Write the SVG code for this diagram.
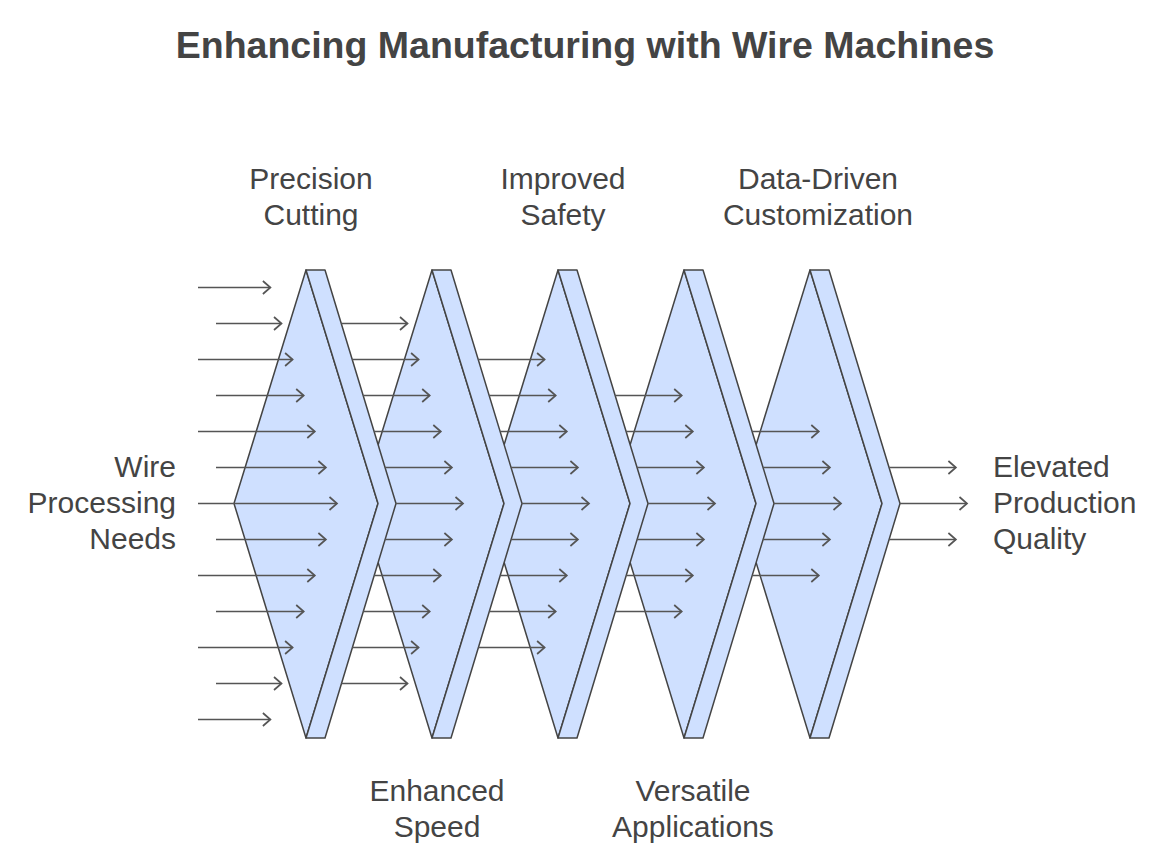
<svg xmlns="http://www.w3.org/2000/svg" width="1170" height="864" viewBox="0 0 1170 864">
<defs>
<style>
.face{fill:#cfe0ff;stroke:#444;stroke-width:1.5;stroke-linejoin:round}
.arr{stroke:#555;stroke-width:1.7;fill:none;marker-end:url(#ah)}
.lbl{font-family:"Liberation Sans",Arial,sans-serif;font-size:30px;fill:#444}
.ttl{font-family:"Liberation Sans",Arial,sans-serif;font-size:37.5px;font-weight:bold;fill:#444}
</style>
<marker id="ah" markerUnits="userSpaceOnUse" markerWidth="14" markerHeight="16" refX="10" refY="8" orient="auto">
<path d="M2.5,1.5 L10,8 L2.5,14.5" fill="none" stroke="#555" stroke-width="1.7"/>
</marker>
</defs>
<rect width="1170" height="864" fill="#fff"/>
<text class="ttl" x="585" y="58" text-anchor="middle">Enhancing Manufacturing with Wire Machines</text>

<g id="filter5">
<polygon class="face" points="810,270 738,503.5 810,738 882,503.5"/>
<polygon class="face" points="810,270 829,270 900,503.5 829,738 810,738 882,503.5"/>
</g>
<g id="filter4">
<polygon class="face" points="684,270 612,503.5 684,738 756,503.5"/>
<polygon class="face" points="684,270 703,270 774,503.5 703,738 684,738 756,503.5"/>
</g>
<g id="filter3">
<polygon class="face" points="558,270 486,503.5 558,738 630,503.5"/>
<polygon class="face" points="558,270 577,270 648,503.5 577,738 558,738 630,503.5"/>
</g>
<g id="filter2">
<polygon class="face" points="432,270 360,503.5 432,738 504,503.5"/>
<polygon class="face" points="432,270 451,270 522,503.5 451,738 432,738 504,503.5"/>
</g>
<g id="filter1">
<polygon class="face" points="306,270 234,503.5 306,738 378,503.5"/>
<polygon class="face" points="306,270 325,270 396,503.5 325,738 306,738 378,503.5"/>
</g>

<g id="connectors">
<line class="arr" x1="198" y1="287.5" x2="270.4" y2="287.5"/>
<line class="arr" x1="216" y1="323.5" x2="281.5" y2="323.5"/>
<line class="arr" x1="198" y1="359.5" x2="292.6" y2="359.5"/>
<line class="arr" x1="216" y1="395.5" x2="303.7" y2="395.5"/>
<line class="arr" x1="198" y1="431.5" x2="314.8" y2="431.5"/>
<line class="arr" x1="216" y1="467.5" x2="325.9" y2="467.5"/>
<line class="arr" x1="198" y1="503.5" x2="337" y2="503.5"/>
<line class="arr" x1="216" y1="539.5" x2="325.9" y2="539.5"/>
<line class="arr" x1="198" y1="575.5" x2="314.8" y2="575.5"/>
<line class="arr" x1="216" y1="611.5" x2="303.7" y2="611.5"/>
<line class="arr" x1="198" y1="647.5" x2="292.6" y2="647.5"/>
<line class="arr" x1="216" y1="683.5" x2="281.5" y2="683.5"/>
<line class="arr" x1="198" y1="719.5" x2="270.4" y2="719.5"/>

<line class="arr" x1="341.3" y1="323.5" x2="407.5" y2="323.5"/>
<line class="arr" x1="352.2" y1="359.5" x2="418.6" y2="359.5"/>
<line class="arr" x1="363.2" y1="395.5" x2="429.7" y2="395.5"/>
<line class="arr" x1="374.1" y1="431.5" x2="440.8" y2="431.5"/>
<line class="arr" x1="385.1" y1="467.5" x2="451.9" y2="467.5"/>
<line class="arr" x1="396" y1="503.5" x2="463" y2="503.5"/>
<line class="arr" x1="385.1" y1="539.5" x2="451.9" y2="539.5"/>
<line class="arr" x1="374.1" y1="575.5" x2="440.8" y2="575.5"/>
<line class="arr" x1="363.2" y1="611.5" x2="429.7" y2="611.5"/>
<line class="arr" x1="352.2" y1="647.5" x2="418.6" y2="647.5"/>
<line class="arr" x1="341.3" y1="683.5" x2="407.5" y2="683.5"/>

<line class="arr" x1="478.2" y1="359.5" x2="544.6" y2="359.5"/>
<line class="arr" x1="489.2" y1="395.5" x2="555.7" y2="395.5"/>
<line class="arr" x1="500.1" y1="431.5" x2="566.8" y2="431.5"/>
<line class="arr" x1="511.1" y1="467.5" x2="577.9" y2="467.5"/>
<line class="arr" x1="522" y1="503.5" x2="589" y2="503.5"/>
<line class="arr" x1="511.1" y1="539.5" x2="577.9" y2="539.5"/>
<line class="arr" x1="500.1" y1="575.5" x2="566.8" y2="575.5"/>
<line class="arr" x1="489.2" y1="611.5" x2="555.7" y2="611.5"/>
<line class="arr" x1="478.2" y1="647.5" x2="544.6" y2="647.5"/>

<line class="arr" x1="615.2" y1="395.5" x2="681.7" y2="395.5"/>
<line class="arr" x1="626.1" y1="431.5" x2="692.8" y2="431.5"/>
<line class="arr" x1="637.1" y1="467.5" x2="703.9" y2="467.5"/>
<line class="arr" x1="648" y1="503.5" x2="715" y2="503.5"/>
<line class="arr" x1="637.1" y1="539.5" x2="703.9" y2="539.5"/>
<line class="arr" x1="626.1" y1="575.5" x2="692.8" y2="575.5"/>
<line class="arr" x1="615.2" y1="611.5" x2="681.7" y2="611.5"/>

<line class="arr" x1="752.1" y1="431.5" x2="818.8" y2="431.5"/>
<line class="arr" x1="763.1" y1="467.5" x2="829.9" y2="467.5"/>
<line class="arr" x1="774" y1="503.5" x2="841" y2="503.5"/>
<line class="arr" x1="763.1" y1="539.5" x2="829.9" y2="539.5"/>
<line class="arr" x1="752.1" y1="575.5" x2="818.8" y2="575.5"/>

<line class="arr" x1="889.1" y1="467.5" x2="955.9" y2="467.5"/>
<line class="arr" x1="900" y1="503.5" x2="967" y2="503.5"/>
<line class="arr" x1="889.1" y1="539.5" x2="955.9" y2="539.5"/>
</g>

<g id="label-input">
<text class="lbl" x="176" y="477" text-anchor="end">Wire</text>
<text class="lbl" x="176" y="513" text-anchor="end">Processing</text>
<text class="lbl" x="176" y="549" text-anchor="end">Needs</text>
</g>
<g id="label-output">
<text class="lbl" x="993" y="477">Elevated</text>
<text class="lbl" x="993" y="513">Production</text>
<text class="lbl" x="993" y="549">Quality</text>
</g>
<g id="label-precision">
<text class="lbl" x="311" y="189" text-anchor="middle">Precision</text>
<text class="lbl" x="311" y="225" text-anchor="middle">Cutting</text>
</g>
<g id="label-speed">
<text class="lbl" x="437" y="801" text-anchor="middle">Enhanced</text>
<text class="lbl" x="437" y="837" text-anchor="middle">Speed</text>
</g>
<g id="label-safety">
<text class="lbl" x="563" y="189" text-anchor="middle">Improved</text>
<text class="lbl" x="563" y="225" text-anchor="middle">Safety</text>
</g>
<g id="label-versatile">
<text class="lbl" x="693" y="801" text-anchor="middle">Versatile</text>
<text class="lbl" x="693" y="837" text-anchor="middle">Applications</text>
</g>
<g id="label-data">
<text class="lbl" x="818" y="189" text-anchor="middle">Data-Driven</text>
<text class="lbl" x="818" y="225" text-anchor="middle">Customization</text>
</g>
</svg>
